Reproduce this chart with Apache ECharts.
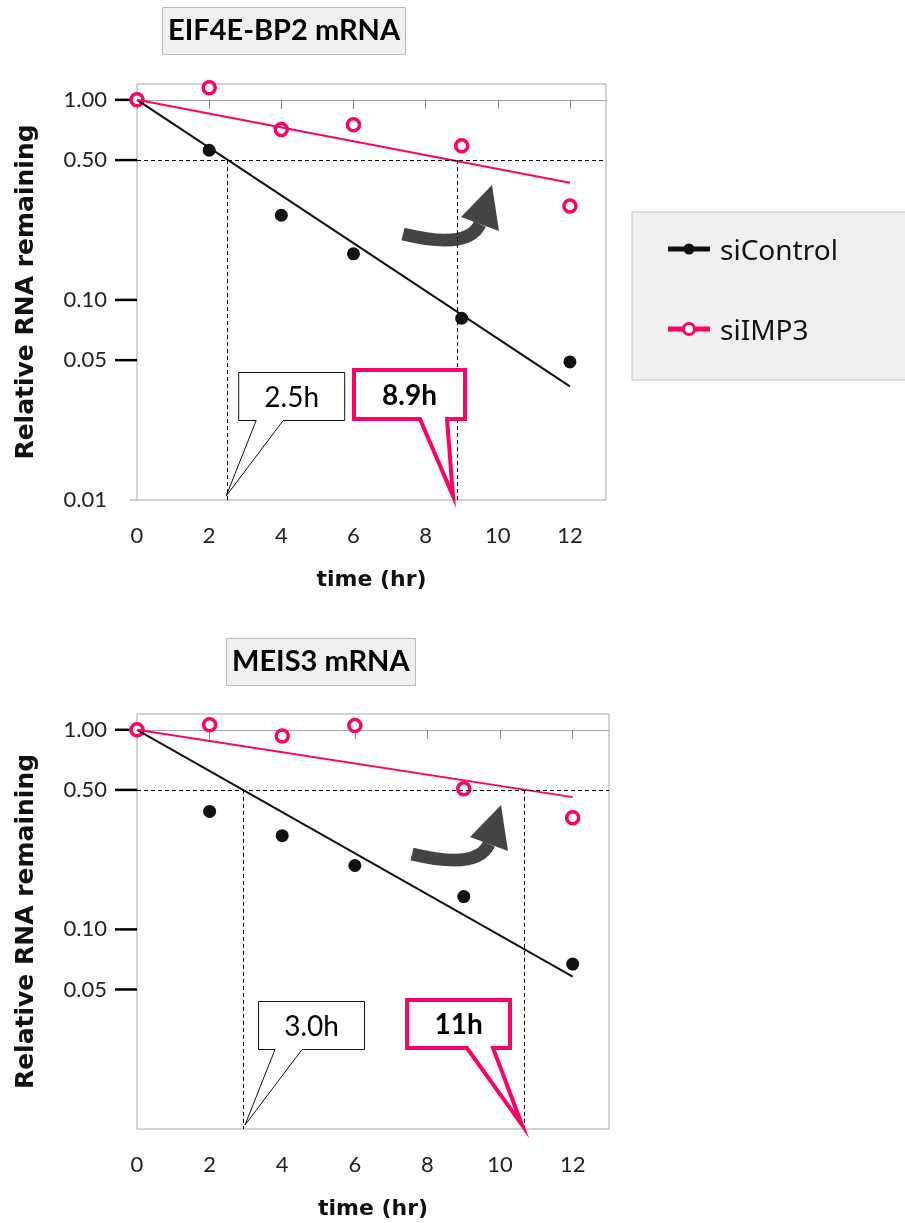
<!DOCTYPE html>
<html>
<head>
<meta charset="utf-8">
<script src="https://cdn.jsdelivr.net/npm/echarts@6/dist/echarts.min.js"></script>
<style>
  html, body { margin: 0; padding: 0; background: #fff; }
  #wrap { width: 905px; height: 1223px; }
</style>
</head>
<body>
<div id="wrap"></div>
<script>
// sampling times and axis ticks
var hours = [0, 2, 4, 6, 9, 12];
var fitHours = [0, 12];
var xTicks = [0, 2, 4, 6, 8, 10, 12];
var yTicksTop = [1, 0.5, 0.1, 0.05, 0.01];
var yTicksBottom = [1, 0.5, 0.1, 0.05];

// EIF4E-BP2 mRNA
var eifControl = [1.0, 0.56, 0.265, 0.17, 0.081, 0.049];
var eifImp3 = [1.0, 1.15, 0.71, 0.75, 0.59, 0.295];
var eifFitControl = [1.0, 0.037];
var eifFitImp3 = [1.0, 0.385];
var eifHalfLife = [2.5, 8.87];
var eifHalfText = ['2.5h', '8.9h'];

// MEIS3 mRNA
var meisControl = [1.0, 0.39, 0.295, 0.209, 0.146, 0.067];
var meisImp3 = [1.0, 1.06, 0.93, 1.05, 0.507, 0.363];
var meisFitControl = [1.0, 0.058];
var meisFitImp3 = [1.0, 0.46];
var meisHalfLife = [2.92, 10.66];
var meisHalfText = ['3.0h', '11h'];

var PINK = '#ff0066';
var BLACK = '#111';

function pairs(xs, ys) {
  return xs.map(function (x, i) { return [x, ys[i]]; });
}

// callout boxes, pixel offsets from the half-life point on the bottom axis
var eifCallouts = [
  { box: [11, 118, -128, -79], base: [29, 56], tip: -1, color: BLACK, width: 1, bold: false },
  { box: [-105, 10, -132, -79], base: [-37, -10], tip: -4, color: PINK, width: 4, bold: true }
];
var meisCallouts = [
  { box: [15, 122, -128, -79], base: [32, 59], tip: 2, color: BLACK, width: 1, bold: false },
  { box: [-119, -12, -131, -79], base: [-57, -31], tip: -2, color: PINK, width: 4, bold: true }
];

function calloutRender(layouts, texts) {
  return function (params, api) {
    var c = layouts[params.dataIndex];
    var p = api.coord([api.value(0), api.value(1)]);
    var h = c.width / 2;
    var x0 = p[0] + c.box[0] + h, x1 = p[0] + c.box[1] - h;
    var y0 = p[1] + c.box[2] + h, y1 = p[1] + c.box[3] - h;
    var pts = [
      [x0, y0], [x1, y0], [x1, y1],
      [p[0] + c.base[1], y1], [p[0] + c.tip, p[1] - 4], [p[0] + c.base[0], y1],
      [x0, y1]
    ];
    return {
      type: 'group',
      children: [
        { type: 'polygon', shape: { points: pts },
          style: { fill: '#fff', stroke: c.color, lineWidth: c.width, lineJoin: 'miter' } },
        { type: 'text',
          style: { text: texts[params.dataIndex], x: (x0 + x1) / 2, y: (y0 + y1) / 2 + 1,
                   align: 'center', verticalAlign: 'middle', fill: '#000',
                   fontFamily: 'Lato', fontSize: 28, fontWeight: c.bold ? 'bold' : 'normal' } }
      ]
    };
  };
}

function arrow(x, y) {
  return {
    type: 'group', x: x, y: y,
    children: [
      { type: 'bezierCurve', shape: { x1: 0, y1: 0, cpx1: 65, cpy1: 16, x2: 77, y2: -10 },
        style: { fill: null, stroke: '#444', lineWidth: 13 } },
      { type: 'polygon', shape: { points: [[58, -17], [89, -49], [96, -3]] },
        style: { fill: '#444' } }
    ]
  };
}

function legendIcon(x, y, color, open) {
  return {
    type: 'group', x: x, y: y, z: 10,
    children: [
      { type: 'rect', shape: { x: 0, y: -2.5, width: 42, height: 5 }, style: { fill: color } },
      { type: 'circle', shape: { cx: 21, cy: 0, r: 5.5 },
        style: open ? { fill: '#fff', stroke: color, lineWidth: 3 } : { fill: color } }
    ]
  };
}

var labelFont = { fontFamily: 'Lato', fontSize: 22, color: '#222' };
var xNameFont = { fontFamily: 'DejaVu Sans', fontWeight: 'bold', fontSize: 22, color: BLACK };
var yNameFont = { fontFamily: 'DejaVu Sans', fontWeight: 'bold', fontSize: 25, color: BLACK };

function bottomX(gridIndex) {
  return {
    type: 'value', gridIndex: gridIndex, position: 'bottom', min: 0, max: 13,
    name: 'time (hr)', nameLocation: 'middle', nameGap: 69, nameTextStyle: xNameFont,
    axisLine: { show: false }, axisTick: { show: false }, splitLine: { show: false },
    axisLabel: Object.assign({ customValues: xTicks, margin: 25 }, labelFont)
  };
}
function topX(gridIndex) {
  return {
    type: 'value', gridIndex: gridIndex, position: 'top', offset: -16, min: 0, max: 13,
    axisLine: { show: true, lineStyle: { color: '#a6a6a6', width: 1 } },
    axisTick: { show: true, inside: true, length: 9, customValues: xTicks,
                lineStyle: { color: '#888', width: 1 } },
    axisLabel: { show: false }, splitLine: { show: false }
  };
}
// labels carry their own tick mark; 0.01 gets the short grey stub of the frame
function logY(gridIndex, ticks) {
  return {
    type: 'log', gridIndex: gridIndex, min: 0.01, max: 1.2,
    name: 'Relative RNA remaining', nameLocation: 'middle', nameGap: 98, nameRotate: 90,
    nameTextStyle: yNameFont,
    axisLine: { show: false }, splitLine: { show: false }, minorTick: { show: false },
    axisTick: { show: false },
    axisLabel: {
      customValues: ticks, margin: 0,
      formatter: function (v) {
        return '{v|' + v.toFixed(2) + '}' + (v > 0.011 ? '{g|}{t|}' : '{h|}{s|}');
      },
      rich: {
        v: labelFont,
        g: { width: 8, height: 2 },
        t: { width: 22, height: 2.5, backgroundColor: '#000' },
        h: { width: 23, height: 1 },
        s: { width: 7, height: 1, backgroundColor: '#a6a6a6' }
      }
    }
  };
}

function panel(g, xi, yi, control, imp3, fitC, fitI, half, texts, callouts) {
  var dash = { color: '#000', type: [4, 3], width: 1 };
  return [
    { name: 'siControl', type: 'line', xAxisIndex: xi, yAxisIndex: yi,
      data: pairs(fitHours, fitC), showSymbol: false,
      lineStyle: { color: BLACK, width: 2 }, itemStyle: { color: BLACK },
      markLine: { silent: true, symbol: ['none', 'none'], label: { show: false }, lineStyle: dash,
        data: [ { yAxis: 0.5 }, [ { coord: [half[0], 0.5] }, { coord: [half[0], 0.01] } ] ] } },
    { name: 'siIMP3', type: 'line', xAxisIndex: xi, yAxisIndex: yi,
      data: pairs(fitHours, fitI), showSymbol: false,
      lineStyle: { color: PINK, width: 2 }, itemStyle: { color: PINK },
      markLine: { silent: true, symbol: ['none', 'none'], label: { show: false }, lineStyle: dash,
        data: [ [ { coord: [half[1], 0.5] }, { coord: [half[1], 0.01] } ] ] } },
    { name: 'siControl data ' + g, type: 'scatter', xAxisIndex: xi, yAxisIndex: yi,
      data: pairs(hours, control), symbol: 'circle', symbolSize: 13,
      itemStyle: { color: BLACK, opacity: 1 } },
    { name: 'siIMP3 data ' + g, type: 'scatter', xAxisIndex: xi, yAxisIndex: yi,
      data: pairs(hours, imp3), symbol: 'circle', symbolSize: 12,
      itemStyle: { color: '#fff', borderColor: PINK, borderWidth: 3.5, opacity: 1 } },
    { name: 'half-life ' + g, type: 'custom', xAxisIndex: xi, yAxisIndex: yi,
      data: half.map(function (h) { return [h, 0.01]; }),
      renderItem: calloutRender(callouts, texts), z: 5 }
  ];
}

var titleStyle = { fontFamily: 'Lato', fontWeight: 'bold', fontSize: 29, color: '#000', lineHeight: 34 };

var option = {
  animation: false,
  backgroundColor: '#fff',
  title: [
    { text: 'EIF4E-BP2 mRNA', left: 162, top: 7, padding: [7, 6],
      backgroundColor: '#f0f0f0', borderColor: '#bcbcbc', borderWidth: 1, textStyle: titleStyle },
    { text: 'MEIS3 mRNA', left: 226, top: 638, padding: [7, 6],
      backgroundColor: '#f0f0f0', borderColor: '#bcbcbc', borderWidth: 1, textStyle: titleStyle }
  ],
  legend: {
    data: [{ name: 'siControl', icon: 'none' }, { name: 'siIMP3', icon: 'none' }],
    orient: 'vertical', left: 668, top: 234, padding: 0,
    itemWidth: 42, itemHeight: 14, itemGap: 44,
    textStyle: { fontFamily: 'Noto Sans', fontSize: 28, color: BLACK, lineHeight: 36, padding: [0, 0, 0, 5] },
    selectedMode: false
  },
  graphic: [
    { type: 'rect', shape: { x: 632, y: 212, width: 290, height: 168 },
      style: { fill: '#f0f0f0', stroke: '#c0c0c0', lineWidth: 1 } },
    legendIcon(668, 249, BLACK, false),
    legendIcon(668, 329, PINK, true),
    arrow(403, 234),
    arrow(412, 854)
  ],
  grid: [
    { left: 137, top: 84, width: 469, height: 416, show: true, borderColor: '#a6a6a6', borderWidth: 1, backgroundColor: '#fff' },
    { left: 137, top: 714, width: 472, height: 415, show: true, borderColor: '#a6a6a6', borderWidth: 1, backgroundColor: '#fff' }
  ],
  xAxis: [bottomX(0), topX(0), bottomX(1), topX(1)],
  yAxis: [logY(0, yTicksTop), logY(1, yTicksBottom)],
  series: []
    .concat(panel(0, 0, 0, eifControl, eifImp3, eifFitControl, eifFitImp3, eifHalfLife, eifHalfText, eifCallouts))
    .concat(panel(1, 2, 1, meisControl, meisImp3, meisFitControl, meisFitImp3, meisHalfLife, meisHalfText, meisCallouts))
};

var myChart = echarts.init(document.getElementById('wrap'));
myChart.setOption(option);
</script>
</body>
</html>
